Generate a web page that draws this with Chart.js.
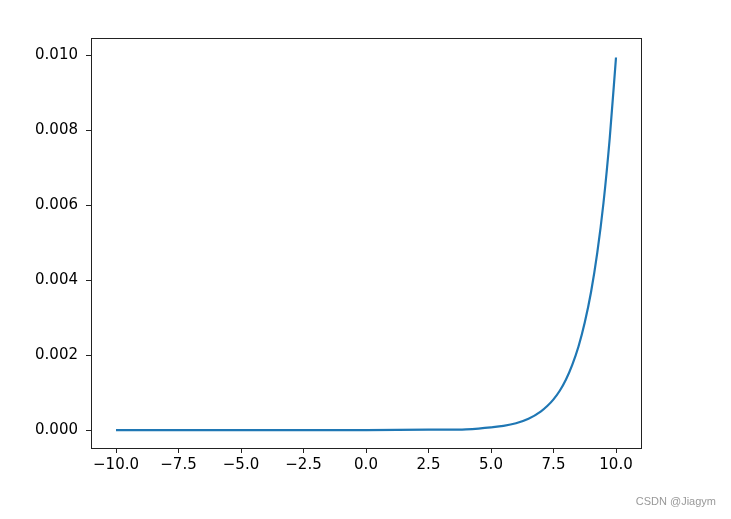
<!DOCTYPE html>
<html>
<head>
<meta charset="utf-8">
<script src="https://cdn.jsdelivr.net/npm/chart.js@4.4.0/dist/chart.umd.min.js"></script>
<style>
  html, body { margin: 0; padding: 0; background: #fff; }
  #wrap { width: 731px; height: 519px; }
</style>
</head>
<body>
<div id="wrap"><canvas id="expChart" width="731" height="519"></canvas></div>
<script>
// values
let xValues = [-10, -7.5, -5, -2.5, 0, 2.5, 3.5, 4, 4.5, 5, 5.5, 6, 6.5, 7, 7.25, 7.5, 7.75, 8, 8.25, 8.5, 8.75, 9, 9.25, 9.5, 9.75, 10]
let yValues = [0, 0, 0, 0, 0, 0.00001, 0.00001, 0.00002, 0.00004, 0.00007, 0.00011, 0.00018, 0.0003, 0.0005, 0.00064, 0.00082, 0.00105, 0.00135, 0.00174, 0.00223, 0.00287, 0.00368, 0.00473, 0.00607, 0.0078, 0.00995]
let xTicks = [-10, -7.5, -5, -2.5, 0, 2.5, 5, 7.5, 10]
let yTicks = [0, 0.002, 0.004, 0.006, 0.008, 0.010]

let font = { family: "DejaVu Sans", size: 15 }

function toPoints(xs, ys) {
  return xs.map(function(x, i) {
    return { x: x, y: ys[i] }
  })
}

function fmtX(v) {
  return v < 0 ? "\u2212" + Math.abs(v).toFixed(1) : v.toFixed(1)
}

// box around the plot + watermark
let framePlugin = {
  id: "frame",
  afterDraw(chart) {
    let ctx = chart.ctx
    let a = chart.chartArea
    ctx.save()
    ctx.strokeStyle = "#222"
    ctx.lineWidth = 1
    ctx.strokeRect(a.left + 0.5, a.top + 0.5, a.right - a.left, a.bottom - a.top)
    ctx.fillStyle = "#999"
    ctx.font = "11px 'Liberation Sans'"
    ctx.textAlign = "right"
    ctx.textBaseline = "middle"
    ctx.fillText("CSDN @Jiagym", 716, 502)
    ctx.restore()
  }
}

new Chart(document.getElementById("expChart"), {
  type: "scatter",
  data: {
    datasets: [{
      data: toPoints(xValues, yValues),
      showLine: true,
      borderColor: "#1f77b4",
      borderWidth: 2.2,
      pointRadius: 0,
      cubicInterpolationMode: "monotone",
      fill: false
    }]
  },
  options: {
    responsive: false,
    animation: false,
    devicePixelRatio: 1,
    layout: { padding: { top: 38, right: 90, left: 0, bottom: 0 } },
    plugins: { legend: { display: false }, tooltip: { enabled: false } },
    scales: {
      x: {
        type: "linear",
        min: -11,
        max: 11,
        afterBuildTicks: function(scale) {
          scale.ticks = xTicks.map(function(v) { return { value: v } })
        },
        afterFit: function(scale) { scale.height = 71 },
        ticks: { callback: fmtX, color: "#000", font: font, padding: 3, maxRotation: 0 },
        grid: { drawOnChartArea: false, tickLength: 5, color: "#222" },
        border: { color: "#222" }
      },
      y: {
        min: -0.00048,
        max: 0.01047,
        afterBuildTicks: function(scale) {
          scale.ticks = yTicks.map(function(v) { return { value: v } })
        },
        afterFit: function(scale) { scale.width = 91 },
        ticks: { callback: function(v) { return v.toFixed(3) }, color: "#000", font: font, padding: 8 },
        grid: { drawOnChartArea: false, tickLength: 5, color: "#222" },
        border: { color: "#222" }
      }
    }
  },
  plugins: [framePlugin]
})
</script>
</body>
</html>
